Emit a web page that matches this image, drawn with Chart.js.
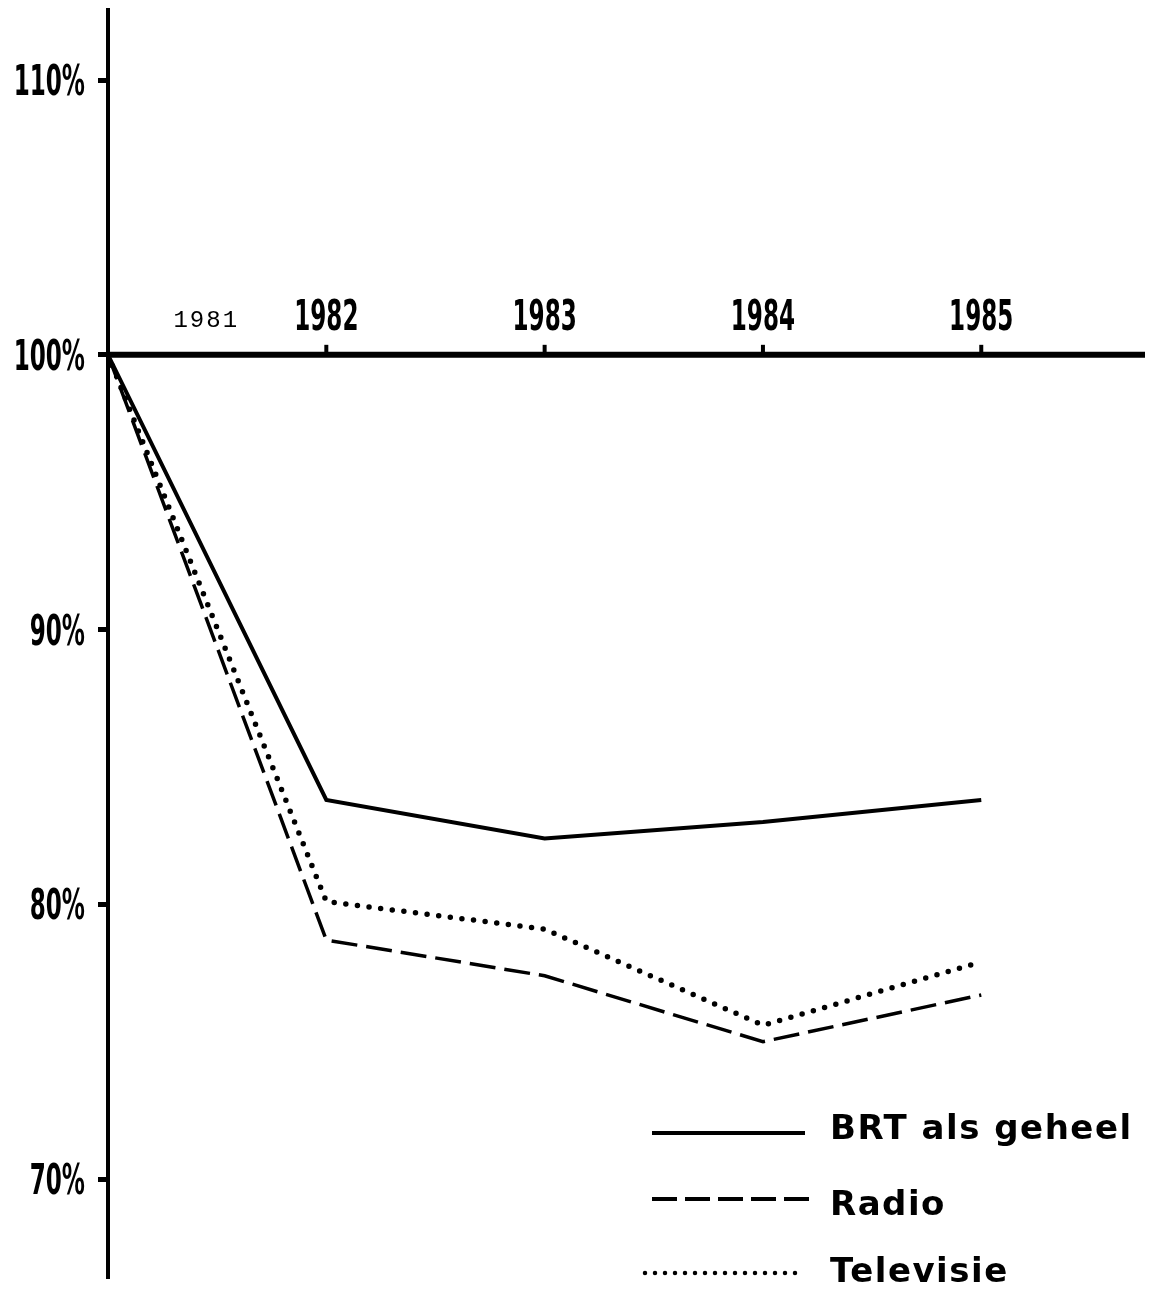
<!DOCTYPE html>
<html lang="nl">
<head>
<meta charset="utf-8">
<title>BRT 1981-1985</title>
<script src="https://cdn.jsdelivr.net/npm/chart.js@4.4.1/dist/chart.umd.min.js"></script>
<style>
  html, body { margin: 0; padding: 0; background: #fff; }
  #wrap { width: 1159px; height: 1292px; position: relative; }
</style>
</head>
<body>
<div id="wrap"><canvas id="brtChart"></canvas></div>
<script>
// jaren, 1981 = 100%
const jaren = [1981, 1982, 1983, 1984, 1985];
// index t.o.v. 1981 (%)
const brtGeheel = [100, 83.8, 82.4, 83.0, 83.8];
const radio = [100, 78.7, 77.4, 75.0, 76.7];
const televisie = [100, 80.1, 79.1, 75.6, 77.9];
const reeksNamen = ['BRT als geheel', 'Radio', 'Televisie'];
const yTicks = [70, 80, 90, 100, 110];

// smalle vette letter: DejaVu Sans Bold, horizontaal samengedrukt
const smalFont = 'bold 42px "DejaVu Sans", sans-serif';
const smalFactor = 0.55;

function punten(waarden) {
    return jaren.map((j, i) => ({ x: j, y: waarden[i] }));
}

function smalTekst(ctx, tekst, x, y, align) {
    ctx.save();
    ctx.translate(x, y);
    ctx.scale(smalFactor, 1);
    ctx.font = smalFont;
    ctx.textAlign = align;
    ctx.textBaseline = 'alphabetic';
    ctx.fillText(tekst, 0, 0);
    ctx.restore();
}

// stijl van de legendestreepjes (iets anders dan in de grafiek zelf)
const legendeStijl = [
    { dash: [], width: 4, cap: 'butt' },
    { dash: [25, 8], width: 4, cap: 'butt' },
    { dash: [0, 10], width: 4.5, cap: 'round' }
];
const legendeRijen = [
    { lijnY: 1133, tekstY: 1139, x1: 652, x2: 805 },
    { lijnY: 1199, tekstY: 1215, x1: 652, x2: 815 },
    { lijnY: 1273, tekstY: 1282, x1: 645, x2: 805 }
];

// 100%-lijn met jaartallen, y-labels en legende rechtsonder
const assenPlugin = {
    id: 'assen',
    beforeDatasetsDraw(chart) {
        const { ctx, chartArea, scales } = chart;
        const y100 = scales.y.getPixelForValue(100);
        ctx.save();
        ctx.strokeStyle = '#000';
        ctx.fillStyle = '#000';
        ctx.lineWidth = 6;
        ctx.beginPath();
        ctx.moveTo(chartArea.left, y100);
        ctx.lineTo(chartArea.right, y100);
        ctx.stroke();

        jaren.forEach((j, i) => {
            if (i === 0) {
                // 1981 is getypt en staat tussen de as en 1982
                const x0 = scales.x.getPixelForValue(j + 0.45);
                ctx.save();
                ctx.font = '24px "Liberation Mono", monospace';
                ctx.letterSpacing = '2px';
                ctx.textAlign = 'center';
                ctx.textBaseline = 'alphabetic';
                ctx.fillText(String(j), x0, y100 - 28);
                ctx.restore();
                return;
            }
            const x = scales.x.getPixelForValue(j);
            ctx.lineWidth = 4;
            ctx.beginPath();
            ctx.moveTo(x, y100 - 2);
            ctx.lineTo(x, y100 - 10);
            ctx.stroke();
            smalTekst(ctx, String(j), x, y100 - 25, 'center');
        });

        // y-labels links van de tickstreepjes
        scales.y.ticks.forEach(t => {
            const y = scales.y.getPixelForValue(t.value);
            smalTekst(ctx, t.value + '%', chartArea.left - 23, y + 15, 'right');
        });
        ctx.restore();
    },
    afterDraw(chart) {
        const ctx = chart.ctx;
        ctx.save();
        ctx.strokeStyle = '#000';
        ctx.fillStyle = '#000';
        chart.data.datasets.forEach((ds, i) => {
            const rij = legendeRijen[i];
            const st = legendeStijl[i];
            ctx.lineWidth = st.width;
            ctx.lineCap = st.cap;
            ctx.setLineDash(st.dash);
            ctx.beginPath();
            ctx.moveTo(rij.x1, rij.lijnY);
            ctx.lineTo(rij.x2, rij.lijnY);
            ctx.stroke();
            ctx.setLineDash([]);
            ctx.font = 'bold 34px "DejaVu Sans", sans-serif';
            ctx.letterSpacing = '1.5px';
            ctx.textAlign = 'left';
            ctx.textBaseline = 'alphabetic';
            ctx.fillText(ds.label, 830, rij.tekstY);
        });
        ctx.restore();
    }
};

const ctx = document.getElementById('brtChart').getContext('2d');
new Chart(ctx, {
    type: 'line',
    data: {
        datasets: [
            {
                label: reeksNamen[0],
                data: punten(brtGeheel),
                borderColor: '#000',
                borderWidth: 4,
                pointRadius: 0,
                tension: 0
            },
            {
                label: reeksNamen[1],
                data: punten(radio),
                borderColor: '#000',
                borderWidth: 3.5,
                borderDash: [26, 9],
                pointRadius: 0,
                tension: 0
            },
            {
                label: reeksNamen[2],
                data: punten(televisie),
                borderColor: '#000',
                borderWidth: 5.5,
                borderDash: [0, 11.7],
                borderCapStyle: 'round',
                pointRadius: 0,
                tension: 0
            }
        ]
    },
    options: {
        responsive: true,
        maintainAspectRatio: false,
        animation: false,
        devicePixelRatio: 1,
        layout: { padding: { top: 10, right: 14, bottom: 14, left: 0 } },
        plugins: {
            legend: { display: false },
            tooltip: { enabled: false }
        },
        scales: {
            x: {
                type: 'linear',
                min: 1981,
                max: 1985.75,
                display: false
            },
            y: {
                min: 66.4,
                max: 112.55,
                afterBuildTicks: (scale) => {
                    scale.ticks = yTicks.map(v => ({ value: v }));
                },
                afterFit: (scale) => {
                    scale.width = 108;
                    scale.paddingTop = 0;
                    scale.paddingBottom = 0;
                },
                border: { display: true, width: 4, color: '#000' },
                grid: {
                    drawOnChartArea: false,
                    drawTicks: true,
                    tickLength: 10,
                    tickWidth: 5,
                    tickColor: '#000'
                },
                ticks: { display: false }
            }
        }
    },
    plugins: [assenPlugin]
});
</script>
</body>
</html>
